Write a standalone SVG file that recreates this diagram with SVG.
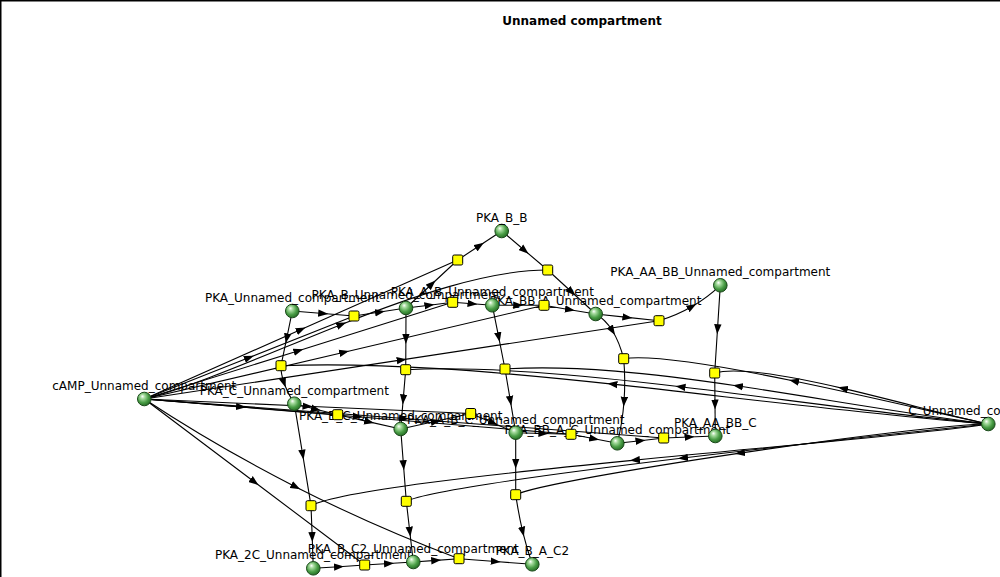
<svg xmlns="http://www.w3.org/2000/svg" width="1000" height="577" viewBox="0 0 1000 577">
<style>
.e{fill:none;stroke:#000;stroke-width:1.1;marker-mid:url(#ar)}
.r rect{fill:#ff0;stroke:#000;stroke-width:1}
.s circle{fill:url(#g);stroke:#1a4a1a;stroke-width:1}
text{font-family:"DejaVu Sans","Liberation Sans",sans-serif;font-size:12px;text-anchor:middle;fill:#000}
.title{font-weight:bold}
</style>
<defs>
<radialGradient id="g" cx="42%" cy="40%" r="62%" fx="36%" fy="30%">
<stop offset="0" stop-color="#ffffff"/>
<stop offset="0.25" stop-color="#a8dca0"/>
<stop offset="0.65" stop-color="#4a9e46"/>
<stop offset="1" stop-color="#256b24"/>
</radialGradient>
<marker id="ar" markerUnits="userSpaceOnUse" markerWidth="10" markerHeight="8" refX="5" refY="4" orient="auto" viewBox="0 0 10 8">
<path d="M0,0.3 L10,4 L0,7.7 Z" fill="#000"/>
</marker>
</defs>
<rect width="1000" height="577" fill="#fff"/>
<rect id="compartment" x="0.75" y="0.75" width="1200" height="800" fill="none" stroke="#000" stroke-width="1.5"/>
<text class="title" x="582" y="24.5">Unnamed compartment</text>
<g id="connectors">
<path class="e" d="M292.3,311 L323.2,313.5 L354,316"/>
<path class="e" d="M354,316 L380,312 L406,308"/>
<path class="e" d="M144.3,399 L249.2,357.5 L354,316"/>
<path class="e" d="M406,308 L431.9,284 L457.7,260"/>
<path class="e" d="M457.7,260 L479.7,245.5 L501.7,231"/>
<path class="e" d="M144.3,399 L301,329.5 L457.7,260"/>
<path class="e" d="M501.7,231 L524.7,250.5 L547.7,270"/>
<path class="e" d="M547.7,270 L571.7,292 L595.7,314"/>
<path class="e" d="M144.3,399 C197.2,385.5 268.6,353.3 341.5,324.4 C414.4,295.5 488.9,270 547.7,270"/>
<path class="e" d="M406,308 L429.4,305.2 L452.7,302.3"/>
<path class="e" d="M452.7,302.3 L472.5,303.8 L492.3,305.3"/>
<path class="e" d="M144.3,399 L298.5,350.7 L452.7,302.3"/>
<path class="e" d="M492.3,305.3 L518.2,305.3 L544,305.3"/>
<path class="e" d="M544,305.3 L569.9,309.7 L595.7,314"/>
<path class="e" d="M144.3,399 L344.2,352.2 L544,305.3"/>
<path class="e" d="M595.7,314 L627.4,317.4 L659,320.7"/>
<path class="e" d="M659,320.7 Q676.7,315.4 692,306.5 Q707.3,297.7 720.3,285.3"/>
<path class="e" d="M144.3,399 L401.7,359.9 L659,320.7"/>
<path class="e" d="M292.3,311 L286.7,338.4 L281,365.7"/>
<path class="e" d="M281,365.7 Q280.7,373.2 284,382.7 Q287.3,392.2 294.3,403.7"/>
<path class="e" d="M988.3,424 C859.2,413.5 732.1,397 612.4,384.1 C492.8,371.2 380.5,361.9 281,365.7"/>
<path class="e" d="M406,308 L405.9,338.9 L405.7,369.7"/>
<path class="e" d="M405.7,369.7 L403.2,399.4 L400.7,429"/>
<path class="e" d="M988.3,424 C889.2,414.5 782.1,399 680.5,386.8 C578.9,374.7 482.9,365.9 405.7,369.7"/>
<path class="e" d="M492.3,305.3 L498.7,337.2 L505,369"/>
<path class="e" d="M505,369 L510.4,400.9 L515.7,432.7"/>
<path class="e" d="M988.3,424 C909.2,414.5 822.1,398.5 737.9,386 C653.8,373.5 572.5,364.5 505,369"/>
<path class="e" d="M595.7,314 Q605.4,319.5 612.4,330.7 Q619.4,341.9 623.7,358.7"/>
<path class="e" d="M623.7,358.7 Q625.6,380.6 624,401.7 Q622.4,422.9 617.3,443.3"/>
<path class="e" d="M988.3,424 C944.2,414.5 867.1,396 794,381 C720.9,365.9 651.9,354.4 623.7,358.7"/>
<path class="e" d="M720.3,285.3 L717.5,329.2 L714.7,373"/>
<path class="e" d="M714.7,373 L715,404.5 L715.3,436"/>
<path class="e" d="M988.3,424 C954.2,417 897.1,401 842.9,388.4 C788.7,375.8 737.4,366.5 714.7,373"/>
<path class="e" d="M294.3,403.7 L316,409.2 L337.7,414.7"/>
<path class="e" d="M337.7,414.7 L369.2,421.9 L400.7,429"/>
<path class="e" d="M144.3,399 L241,406.9 L337.7,414.7"/>
<path class="e" d="M400.7,429 L435.7,421.3 L470.7,413.5"/>
<path class="e" d="M470.7,413.5 L493.2,423.1 L515.7,432.7"/>
<path class="e" d="M144.3,399 L307.5,406.3 L470.7,413.5"/>
<path class="e" d="M515.7,432.7 L543.4,433.5 L571,434.3"/>
<path class="e" d="M571,434.3 L594.2,438.8 L617.3,443.3"/>
<path class="e" d="M144.3,399 L357.7,416.7 L571,434.3"/>
<path class="e" d="M617.3,443.3 L640.5,440.7 L663.7,438"/>
<path class="e" d="M663.7,438 L689.5,437 L715.3,436"/>
<path class="e" d="M144.3,399 L404,418.5 L663.7,438"/>
<path class="e" d="M294.3,403.7 L302.7,454.7 L311,505.7"/>
<path class="e" d="M311,505.7 L312.2,537 L313.3,568.3"/>
<path class="e" d="M988.3,424 C938.7,432.5 784.3,445.5 634.9,460.1 C485.5,474.7 341,490.9 311,505.7"/>
<path class="e" d="M400.7,429 L403.5,465.2 L406.3,501.3"/>
<path class="e" d="M406.3,501.3 L409.8,531.7 L413.3,562"/>
<path class="e" d="M988.3,424 C949.4,428 813.8,442.3 683,458 C552.2,473.8 426.2,491.2 406.3,501.3"/>
<path class="e" d="M515.7,432.7 L515.7,463.7 L515.7,494.7"/>
<path class="e" d="M515.7,494.7 Q518.6,514.3 522.7,531.7 Q526.9,549.1 532.3,564.3"/>
<path class="e" d="M988.3,424 C955.2,424 845.6,437.5 740,453.1 C634.4,468.7 532.9,486.4 515.7,494.7"/>
<path class="e" d="M313.3,568.3 L339,566.7 L364.7,565"/>
<path class="e" d="M364.7,565 L389,563.5 L413.3,562"/>
<path class="e" d="M144.3,399 L254.5,482 L364.7,565"/>
<path class="e" d="M413.3,562 L436.2,560.4 L459,558.7"/>
<path class="e" d="M459,558.7 L495.7,561.5 L532.3,564.3"/>
<path class="e" d="M144.3,399 Q217.2,447 295.8,486.9 Q374.5,526.9 459,558.7"/>
</g>
<g id="species">
<g id="cAMP" class="s"><circle cx="144.3" cy="399" r="6.8"/><text x="144.3" y="390">cAMP_Unnamed_compartment</text></g>
<g id="PKA" class="s"><circle cx="292.3" cy="311" r="6.8"/><text x="292.3" y="302">PKA_Unnamed_compartment</text></g>
<g id="PKA_B_B" class="s"><circle cx="501.7" cy="231" r="6.8"/><text x="501.7" y="222">PKA_B_B</text></g>
<g id="PKA_BB_A" class="s"><circle cx="595.7" cy="314" r="6.8"/><text x="595.7" y="305">PKA_BB_A_Unnamed_compartment</text></g>
<g id="PKA_B" class="s"><circle cx="406" cy="308" r="6.8"/><text x="406" y="299">PKA_B_Unnamed_compartment</text></g>
<g id="PKA_A_B" class="s"><circle cx="492.3" cy="305.3" r="6.8"/><text x="492.3" y="296.3">PKA_A_B_Unnamed_compartment</text></g>
<g id="PKA_AA_BB" class="s"><circle cx="720.3" cy="285.3" r="6.8"/><text x="720.3" y="276.3">PKA_AA_BB_Unnamed_compartment</text></g>
<g id="C" class="s"><circle cx="988.3" cy="424" r="6.8"/><text x="988.3" y="415">C_Unnamed_compartment</text></g>
<g id="PKA_C" class="s"><circle cx="294.3" cy="403.7" r="6.8"/><text x="294.3" y="394.7">PKA_C_Unnamed_compartment</text></g>
<g id="PKA_B_C" class="s"><circle cx="400.7" cy="429" r="6.8"/><text x="400.7" y="420">PKA_B_C_Unnamed_compartment</text></g>
<g id="PKA_BB_A_C" class="s"><circle cx="617.3" cy="443.3" r="6.8"/><text x="617.3" y="434.3">PKA_BB_A_C_Unnamed_compartment</text></g>
<g id="PKA_A_B_C" class="s"><circle cx="515.7" cy="432.7" r="6.8"/><text x="515.7" y="423.7">PKA_A_B_C_Unnamed_compartment</text></g>
<g id="PKA_AA_BB_C" class="s"><circle cx="715.3" cy="436" r="6.8"/><text x="715.3" y="427">PKA_AA_BB_C</text></g>
<g id="PKA_2C" class="s"><circle cx="313.3" cy="568.3" r="6.8"/><text x="313.3" y="559.3">PKA_2C_Unnamed_compartment</text></g>
<g id="PKA_B_C2" class="s"><circle cx="413.3" cy="562" r="6.8"/><text x="413.3" y="553">PKA_B_C2_Unnamed_compartment</text></g>
<g id="PKA_B_A_C2" class="s"><circle cx="532.3" cy="564.3" r="6.8"/><text x="532.3" y="555.3">PKA_B_A_C2</text></g>
</g>
<g id="reactions">
<g id="R1" class="r"><rect x="349" y="311" width="10" height="10" rx="1.5"/></g>
<g id="R2" class="r"><rect x="452.7" y="255" width="10" height="10" rx="1.5"/></g>
<g id="R3" class="r"><rect x="542.7" y="265" width="10" height="10" rx="1.5"/></g>
<g id="R4" class="r"><rect x="447.7" y="297.3" width="10" height="10" rx="1.5"/></g>
<g id="R5" class="r"><rect x="539" y="300.3" width="10" height="10" rx="1.5"/></g>
<g id="R6" class="r"><rect x="654" y="315.7" width="10" height="10" rx="1.5"/></g>
<g id="R7" class="r"><rect x="276" y="360.7" width="10" height="10" rx="1.5"/></g>
<g id="R8" class="r"><rect x="400.7" y="364.7" width="10" height="10" rx="1.5"/></g>
<g id="R9" class="r"><rect x="500" y="364" width="10" height="10" rx="1.5"/></g>
<g id="R10" class="r"><rect x="618.7" y="353.7" width="10" height="10" rx="1.5"/></g>
<g id="R11" class="r"><rect x="709.7" y="368" width="10" height="10" rx="1.5"/></g>
<g id="R12" class="r"><rect x="332.7" y="409.7" width="10" height="10" rx="1.5"/></g>
<g id="R13" class="r"><rect x="465.7" y="408.5" width="10" height="10" rx="1.5"/></g>
<g id="R14" class="r"><rect x="566" y="429.3" width="10" height="10" rx="1.5"/></g>
<g id="R15" class="r"><rect x="658.7" y="433" width="10" height="10" rx="1.5"/></g>
<g id="R16" class="r"><rect x="306" y="500.7" width="10" height="10" rx="1.5"/></g>
<g id="R17" class="r"><rect x="401.3" y="496.3" width="10" height="10" rx="1.5"/></g>
<g id="R18" class="r"><rect x="510.7" y="489.7" width="10" height="10" rx="1.5"/></g>
<g id="R19" class="r"><rect x="359.7" y="560" width="10" height="10" rx="1.5"/></g>
<g id="R20" class="r"><rect x="454" y="553.7" width="10" height="10" rx="1.5"/></g>
</g>
</svg>
